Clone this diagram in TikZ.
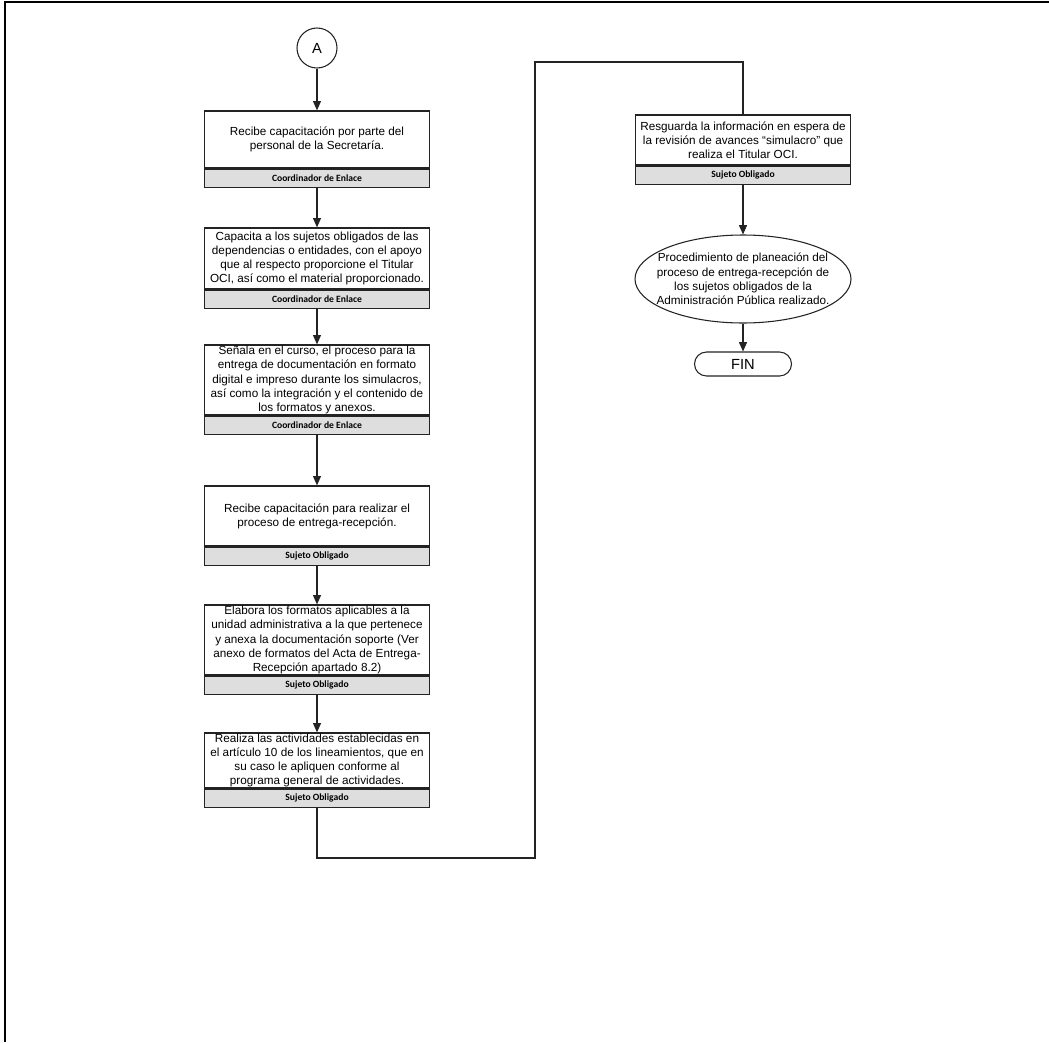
\documentclass[tikz,border=0pt]{standalone}
\usepackage{fontspec}
\setmainfont{Liberation Sans}
\newfontfamily\rolefont{Carlito}
\usetikzlibrary{shapes.geometric,arrows.meta}
\definecolor{rolegrey}{RGB}{222,222,222}
\definecolor{edge}{RGB}{35,35,35}

\tikzset{
  task/.style={draw=edge, line width=0.95pt, minimum width=168.75pt, align=center,
    inner xsep=2pt, inner ysep=0pt, font=\fontsize{8.8}{10.65}\selectfont},
  sidetask/.style={task, minimum width=161.25pt},
  role/.style={draw=edge, fill=rolegrey, line width=0.95pt, minimum width=168.75pt,
    minimum height=13.5pt, inner sep=0pt, anchor=north,
    font=\rolefont\bfseries\fontsize{7.2}{8}\selectfont},
  siderole/.style={role, minimum width=161.25pt},
  flow/.style={draw=edge, line width=0.8pt, -{Triangle[width=6pt,length=7pt]}},
  link/.style={draw=edge, line width=0.8pt},
  connector/.style={draw=edge, circle, line width=0.8pt, minimum size=30pt, inner sep=0pt,
    font=\fontsize{11}{13}\selectfont},
  result/.style={draw=edge, ellipse, line width=0.8pt, minimum width=162pt,
    minimum height=66pt, inner sep=0pt},
  resulttext/.style={align=center, inner sep=0pt, font=\fontsize{8.8}{10.65}\selectfont},
  terminal/.style={draw=edge, rectangle, rounded corners=9pt, line width=0.8pt,
    minimum width=72.75pt, minimum height=18pt, inner sep=0pt, font=\fontsize{11}{13}\selectfont}
}

\begin{document}
\begin{tikzpicture}[x=0.75pt,y=-0.75pt]
\useasboundingbox (0,0) rectangle (1049,1042);

% page frame (top and left edges)
\draw[line width=1.1pt] (5,1042) -- (5,2) -- (1049,2);

% left column
\node[connector] (a) at (317,48) {A};

\node[task, minimum height=42.75pt] (b1) at (317,139.5)
  {Recibe capacitación por parte del\\personal de la Secretaría.};
\node[role] (r1) at (b1.south) {Coordinador de Enlace};

\node[task, minimum height=45.75pt] (b2) at (317,258.5)
  {Capacita a los sujetos obligados de las\\dependencias o entidades, con el apoyo\\que al respecto proporcione el Titular\\OCI, así como el material proporcionado.};
\node[role] (r2) at (b2.south) {Coordinador de Enlace};

\node[task, minimum height=52.5pt] (b3) at (317,380)
  {Señala en el curso, el proceso para la\\entrega de documentación en formato\\digital e impreso durante los simulacros,\\así como la integración y el contenido de\\los formatos y anexos.};
\node[role] (r3) at (b3.south) {Coordinador de Enlace};

\node[task, minimum height=45pt] (b4) at (317,516)
  {Recibe capacitación para realizar el\\proceso de entrega-recepción.};
\node[role] (r4) at (b4.south) {Sujeto Obligado};

\node[task, minimum height=52.5pt] (b5) at (317,640)
  {Elabora los formatos aplicables a la\\unidad administrativa a la que pertenece\\y anexa la documentación soporte (Ver\\anexo de formatos del Acta de Entrega-\\Recepción apartado 8.2)};
\node[role] (r5) at (b5.south) {Sujeto Obligado};

\node[task, minimum height=41.25pt] (b6) at (317,760.5)
  {Realiza las actividades establecidas en\\el artículo 10 de los lineamientos, que en\\su caso le apliquen conforme al\\programa general de actividades.};
\node[role] (r6) at (b6.south) {Sujeto Obligado};

% right column
\node[sidetask, minimum height=37.5pt] (b7) at (743,140)
  {Resguarda la información en espera de\\la revisión de avances “simulacro” que\\realiza el Titular OCI.};
\node[siderole] (r7) at (b7.south) {Sujeto Obligado};

% closing ellipse: its text is wider than the outline, as a centred label
\node[result, label={[resulttext]center:{Procedimiento de planeación del\\proceso de entrega-recepción de\\los sujetos obligados de la\\Administración Pública realizado.}}] (end) at (743,279) {};

\node[terminal] (fin) at (743,364) {FIN};

% route from the left column to the right column
\coordinate (j1) at (535,858);
\coordinate (j2) at (535,62);

% connectors
\draw[flow] (a) -- (b1);
\draw[flow] (r1) -- (b2);
\draw[flow] (r2) -- (b3);
\draw[flow] (r3) -- (b4);
\draw[flow] (r4) -- (b5);
\draw[flow] (r5) -- (b6);
\draw[link] (r6.south) |- (j1) -- (j2) -| (b7.north);
\draw[flow] (r7.south) -- (end.north);
\draw[flow] (end.south) -- (fin.north);
\end{tikzpicture}
\end{document}
